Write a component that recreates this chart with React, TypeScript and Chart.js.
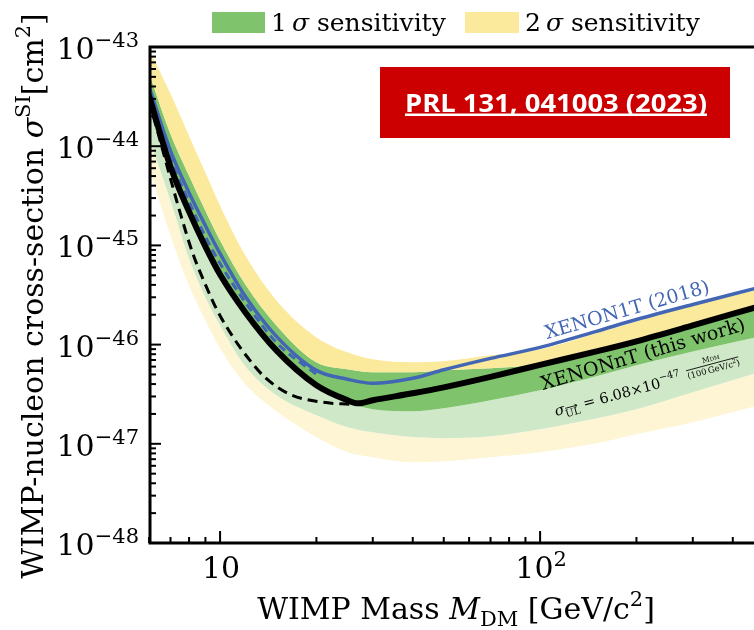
import React, { useEffect, useRef } from 'react';
import { Chart, registerables } from 'chart.js';

Chart.register(...registerables);

// ---------- data (GeV/c^2, cm^2) ----------
const massGrid = [6, 7, 8, 9, 10, 12, 15, 20, 25, 30, 40, 50, 70, 100, 150, 200, 300, 470];
const plus2Sigma = [9.55e-44, 3.37e-44, 1.27e-44, 5.4e-45, 2.51e-45, 7.89e-46, 2.78e-46, 1.18e-46, 8.35e-47, 7.1e-47, 6.62e-47, 6.78e-47, 7.79e-47, 8.95e-47, 1.3e-46, 1.71e-46, 2.48e-46, 3.51e-46];
const plus1Sigma = [5.47e-44, 1.33e-44, 5.04e-45, 2.24e-45, 1.12e-45, 4.03e-46, 1.56e-46, 6.62e-47, 5.63e-47, 5.25e-47, 5.25e-47, 5.5e-47, 5.76e-47, 6.32e-47, 8.54e-47, 1.08e-46, 1.56e-46, 2.31e-46];
const medianSens = [3.21e-44, 6.21e-45, 2.19e-45, 9.72e-46, 5.08e-46, 2.11e-46, 8.74e-47, 3.89e-47, 2.62e-47, 2.23e-47, 2.13e-47, 2.28e-47, 2.75e-47, 3.46e-47, 4.79e-47, 6.18e-47, 8.54e-47, 1.18e-46];
const minus1Sigma = [1.21e-44, 2.82e-45, 7.36e-46, 2.98e-46, 1.56e-46, 6.04e-47, 3.08e-47, 1.94e-47, 1.47e-47, 1.31e-47, 1.17e-47, 1.14e-47, 1.19e-47, 1.4e-47, 1.81e-47, 2.23e-47, 3.3e-47, 5.13e-47];
const minus2Sigma = [6.06e-45, 1.25e-45, 3.94e-46, 1.75e-46, 9.16e-47, 3.98e-47, 2.13e-47, 1.17e-47, 8.23e-48, 7.33e-48, 6.53e-48, 6.68e-48, 7.33e-48, 8.23e-48, 1.01e-47, 1.25e-47, 1.65e-47, 2.39e-47];

const limitMass = [6, 7, 8, 9, 10, 12, 15, 20, 25, 27, 30, 40, 50, 70, 100, 150, 200, 300, 470];
const limitXS = [3.21e-44, 6.21e-45, 2.19e-45, 9.72e-46, 5.08e-46, 2.11e-46, 8.74e-47, 3.89e-47, 2.75e-47, 2.56e-47, 2.75e-47, 3.23e-47, 3.71e-47, 4.73e-47, 6.25e-47, 8.54e-47, 1.08e-46, 1.56e-46, 2.37e-46];

const unconstrainedMass = [6.0, 6.5, 7.0, 7.5, 8.2, 9.0, 9.8, 11, 12.4, 13.8, 16.5, 21, 25.5];
const unconstrainedXS = [2.86e-44, 1.13e-44, 4.7e-45, 2.14e-45, 8.47e-46, 4.03e-46, 2.21e-46, 1.18e-46, 6.93e-47, 4.68e-47, 3.16e-47, 2.62e-47, 2.5e-47];

const xenon1tXS = [3.96e-44, 8.99e-45, 3.4e-45, 1.58e-45, 8.27e-46, 3.05e-46, 1.21e-46, 5.5e-47, 4.47e-47, 4.07e-47, 4.57e-47, 5.57e-47, 7.26e-47, 9.37e-47, 1.36e-46, 1.79e-46, 2.54e-46, 3.68e-46];
const xenon1tAltMass = [6, 7, 8, 9, 10, 12, 15, 20];
const xenon1tAltXS = [3.44e-44, 7.47e-45, 2.76e-45, 1.23e-45, 6.56e-46, 2.66e-46, 1.05e-46, 5.01e-47];

const yTickExponents = [-43, -44, -45, -46, -47, -48];
const xMajorTicks = [10, 100];
const xMinorTicks = [6, 7, 8, 9, 20, 30, 40, 50, 60, 70, 80, 90, 200, 300, 400];

// ---------- styles ----------
const SERIF = '"DejaVu Serif", serif';
const DARK_YELLOW = '#fbe99c';
const LIGHT_YELLOW = '#fdf5d4';
const DARK_GREEN = '#7fc46d';
const LIGHT_GREEN = '#cfe8c7';
const BLUE = '#4266b3';
const RED = '#cc0000';

type Part = { t: string; size: number; italic?: boolean; bold?: boolean; dy?: number; family?: string; color?: string };

const fontOf = (p: Part) => `${p.italic ? 'italic ' : ''}${p.bold ? 'bold ' : ''}${p.size}px ${p.family || SERIF}`;

function widthOf(ctx: CanvasRenderingContext2D, parts: Part[]) {
  let w = 0;
  for (const p of parts) {
    ctx.font = fontOf(p);
    w += ctx.measureText(p.t).width;
  }
  return w;
}

function drawParts(ctx: CanvasRenderingContext2D, parts: Part[], x: number, y: number, align: 'left' | 'center' | 'right', color = '#000') {
  const w = widthOf(ctx, parts);
  let cx = align === 'left' ? x : align === 'center' ? x - w / 2 : x - w;
  ctx.textAlign = 'left';
  ctx.textBaseline = 'alphabetic';
  const starts: number[] = [];
  for (const p of parts) {
    ctx.font = fontOf(p);
    ctx.fillStyle = p.color || color;
    starts.push(cx);
    ctx.fillText(p.t, cx, y + (p.dy || 0));
    cx += ctx.measureText(p.t).width;
  }
  starts.push(cx);
  return starts;
}

const decor = {
  id: 'decor',
  afterDraw(chart: any) {
    const ctx: CanvasRenderingContext2D = chart.ctx;
    const { left, right, top, bottom } = chart.chartArea;
    const xs = chart.scales.x;
    const ys = chart.scales.y;
    ctx.save();

    // frame
    ctx.strokeStyle = '#000';
    ctx.lineWidth = 3;
    ctx.beginPath();
    ctx.moveTo(right + 2, top);
    ctx.lineTo(left, top);
    ctx.lineTo(left, bottom);
    ctx.lineTo(right + 2, bottom);
    ctx.stroke();

    // y ticks (inward)
    ctx.lineWidth = 2;
    for (let e = -48; e <= -43; e++) {
      for (let m = 1; m <= 9; m++) {
        if (e === -43 && m > 1) break;
        const v = m * Math.pow(10, e);
        const py = ys.getPixelForValue(v);
        const len = m === 1 ? 11 : 6;
        ctx.beginPath();
        ctx.moveTo(left, py);
        ctx.lineTo(left + len, py);
        ctx.stroke();
      }
    }
    // x ticks (inward)
    for (const v of xMajorTicks.concat(xMinorTicks)) {
      const px = xs.getPixelForValue(v);
      const len = xMajorTicks.includes(v) ? 12 : 6;
      ctx.beginPath();
      ctx.moveTo(px, bottom);
      ctx.lineTo(px, bottom - len);
      ctx.stroke();
    }

    // y tick labels
    for (const e of yTickExponents) {
      const py = ys.getPixelForValue(Math.pow(10, e));
      drawParts(ctx, [
        { t: '10', size: 30 },
        { t: '\u2212' + String(-e), size: 21, dy: -12 },
      ], 139, py + 12, 'right');
    }
    // x tick labels
    for (const v of xMajorTicks) {
      const px = xs.getPixelForValue(v);
      const exp = Math.round(Math.log10(v));
      const parts: Part[] = exp === 1 ? [{ t: '10', size: 30 }] : [{ t: '10', size: 30 }, { t: String(exp), size: 21, dy: -12 }];
      drawParts(ctx, parts, px + 1, bottom + 35, 'center');
    }

    // axis titles
    drawParts(ctx, [
      { t: 'WIMP Mass ', size: 30 },
      { t: 'M', size: 30, italic: true },
      { t: 'DM', size: 21, dy: 7 },
      { t: ' [GeV/c', size: 30 },
      { t: '2', size: 21, dy: -13 },
      { t: ']', size: 30 },
    ], (left + right) / 2 + 4, 619, 'center');

    ctx.save();
    ctx.translate(43, (top + bottom) / 2 + 1);
    ctx.rotate(-Math.PI / 2);
    drawParts(ctx, [
      { t: 'WIMP-nucleon cross-section ', size: 30 },
      { t: '\u03c3', size: 30, italic: true },
      { t: 'SI', size: 21, dy: -13 },
      { t: '[cm', size: 30 },
      { t: '2', size: 21, dy: -13 },
      { t: ']', size: 30 },
    ], 0, 0, 'center');
    ctx.restore();

    // legend
    ctx.fillStyle = DARK_GREEN;
    ctx.fillRect(212, 12, 53, 21);
    drawParts(ctx, [
      { t: '1\u2009', size: 25 },
      { t: '\u03c3', size: 25, italic: true },
      { t: ' sensitivity', size: 25 },
    ], 271, 31, 'left');
    ctx.fillStyle = DARK_YELLOW;
    ctx.fillRect(465, 12, 54, 21);
    drawParts(ctx, [
      { t: '2\u2009', size: 25 },
      { t: '\u03c3', size: 25, italic: true },
      { t: ' sensitivity', size: 25 },
    ], 525, 31, 'left');

    // red badge
    ctx.fillStyle = RED;
    ctx.fillRect(380, 67, 350, 71);
    const badge: Part = { t: 'PRL 131, 041003 (2023)', size: 25, bold: true, family: '"Open Sans", sans-serif' };
    ctx.font = fontOf(badge);
    const bw = ctx.measureText(badge.t).width;
    const sx = 302 / bw;
    ctx.save();
    ctx.translate(556, 112);
    ctx.scale(sx, 1);
    ctx.fillStyle = '#fff';
    ctx.textAlign = 'center';
    ctx.fillText(badge.t, 0, 0);
    ctx.restore();
    ctx.fillStyle = '#fff';
    ctx.fillRect(556 - 151, 113.5, 302, 2.5);

    // annotations
    const deg = Math.PI / 180;
    ctx.save();
    ctx.translate(547, 339);
    ctx.rotate(-16 * deg);
    drawParts(ctx, [{ t: 'XENON1T (2018)', size: 19, color: BLUE }], 0, 0, 'left');
    ctx.restore();

    ctx.save();
    ctx.translate(543, 390);
    ctx.rotate(-16.5 * deg);
    drawParts(ctx, [{ t: 'XENONnT (this work)', size: 19 }], 0, 0, 'left');
    ctx.restore();

    ctx.save();
    ctx.translate(556, 416);
    ctx.rotate(-15 * deg);
    const st = drawParts(ctx, [
      { t: '\u03c3', size: 14.5, italic: true },
      { t: 'UL', size: 10, dy: 4 },
      { t: ' = 6.08\u00d710', size: 14.5 },
      { t: '\u221247', size: 10, dy: -7 },
    ], 0, 0, 'left');
    // arrow over UL
    ctx.strokeStyle = '#000';
    ctx.lineWidth = 0.8;
    const a0 = st[1] + 1, a1 = st[2] - 2;
    ctx.beginPath();
    ctx.moveTo(a0, -5);
    ctx.lineTo(a1, -5);
    ctx.moveTo(a1 - 2, -6.5);
    ctx.lineTo(a1, -5);
    ctx.lineTo(a1 - 2, -3.5);
    ctx.stroke();
    // fraction
    const fx = st[4] + 7;
    const den: Part[] = [
      { t: '(100\u2009GeV/c', size: 8.5 },
      { t: '2', size: 6, dy: -3.5 },
      { t: ')', size: 8.5 },
    ];
    const num: Part[] = [
      { t: 'M', size: 7.5 },
      { t: 'DM', size: 5.5 },
    ];
    const dw = widthOf(ctx, den);
    drawParts(ctx, num, fx + dw / 2, -13, 'center');
    ctx.lineWidth = 0.8;
    ctx.beginPath();
    ctx.moveTo(fx, -10);
    ctx.lineTo(fx + dw, -10);
    ctx.stroke();
    drawParts(ctx, den, fx, -1.5, 'left');
    ctx.restore();

    ctx.restore();
  },
};

const pts = (xs: number[], ys: number[]) => xs.map((x, i) => ({ x, y: ys[i] }));

export default function App() {
  const ref = useRef<HTMLCanvasElement>(null);
  useEffect(() => {
    const canvas = ref.current!;
    const band = (ys: number[], color: string | null) => ({
      data: pts(massGrid, ys),
      borderWidth: 0,
      borderColor: 'rgba(0,0,0,0)',
      backgroundColor: color || 'rgba(0,0,0,0)',
      fill: color ? '+1' : false,
      pointRadius: 0,
      cubicInterpolationMode: 'monotone' as const,
    });
    const chart = new Chart(canvas, {
      type: 'line',
      data: {
        datasets: [
          { label: 'XENONnT (this work)', data: pts(limitMass, limitXS), borderColor: '#000', borderWidth: 6, pointRadius: 0, fill: false, cubicInterpolationMode: 'monotone', borderCapStyle: 'round' } as any,
          { label: 'unconstrained', data: pts(unconstrainedMass, unconstrainedXS), borderColor: '#000', borderWidth: 3, borderDash: [10, 6], pointRadius: 0, fill: false, cubicInterpolationMode: 'monotone' } as any,
          { label: 'XENON1T alt', data: pts(xenon1tAltMass, xenon1tAltXS), borderColor: BLUE, borderWidth: 3, borderDash: [8, 5], pointRadius: 0, fill: false, cubicInterpolationMode: 'monotone' } as any,
          { label: 'XENON1T (2018)', data: pts(massGrid, xenon1tXS), borderColor: BLUE, borderWidth: 3.5, pointRadius: 0, fill: false, cubicInterpolationMode: 'monotone' } as any,
          band(plus2Sigma, DARK_YELLOW),
          band(plus1Sigma, DARK_GREEN),
          band(medianSens, LIGHT_GREEN),
          band(minus1Sigma, LIGHT_YELLOW),
          band(minus2Sigma, null),
        ],
      },
      options: {
        responsive: false,
        animation: false,
        devicePixelRatio: 1,
        layout: { padding: { left: 150, top: 47, right: 0, bottom: 87 } },
        scales: {
          x: { type: 'logarithmic', min: 6.04, max: 466, display: false },
          y: { type: 'logarithmic', min: 1e-48, max: 1e-43, display: false },
        },
        plugins: { legend: { display: false }, tooltip: { enabled: false } },
        elements: { point: { radius: 0 } },
      } as any,
      plugins: [decor],
    });
    return () => chart.destroy();
  }, []);
  return (
    <div style={{ position: 'absolute', left: 0, top: 0, width: 754, height: 630, background: '#fff' }}>
      <canvas ref={ref} width={754} height={630} style={{ display: 'block' }} />
    </div>
  );
}
